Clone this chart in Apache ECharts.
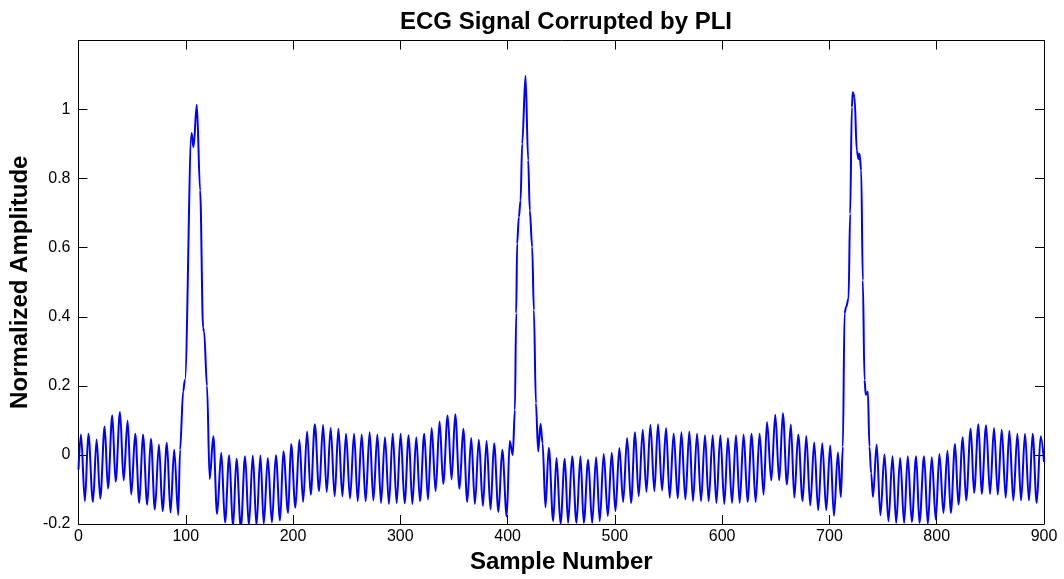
<!DOCTYPE html>
<html>
<head>
<meta charset="utf-8">
<script src="https://cdn.jsdelivr.net/npm/echarts@6/dist/echarts.min.js"></script>
<style>
html,body{margin:0;padding:0;background:#fff;}
#chart{width:1064px;height:579px;}
</style>
</head>
<body>
<div id="chart"></div>
<script>
// ---- data (vertices: local extrema and QRS turning points) ----
const chartTitle = 'ECG Signal Corrupted by PLI';
const xAxisName = 'Sample Number';
const yAxisName = 'Normalized Amplitude';
const xTicks = [0, 100, 200, 300, 400, 500, 600, 700, 800, 900];
const yTicks = [-0.2, 0, 0.2, 0.4, 0.6, 0.8, 1];

const sampleNumber = [
  0, 2.3, 6.0, 9.2, 13.5, 16.9, 20.3, 24.4, 27.5, 31.5, 34.6, 38.7, 42.1, 45.8, 49.2, 52.9, 56.7, 60.1, 64.1, 67.5,
  71.2, 75.0, 78.4, 82.4, 85.8, 89.2, 93.0,
  94.7, 97.6, 99.2, 105.4, 107.2, 110.3, 113.4, 116.2, 117.1, 119.8, 122.3,
  125.7, 129.2, 133.1, 136.6, 140.5, 144.0, 147.3, 151.3, 155.3, 158.8, 162.5, 165.9, 169.6, 172.7, 176.5, 180.3,
  184.0, 187.9, 191.0, 195.4, 198.2, 202.2, 205.9, 209.4, 213.1, 216.5, 220.3, 224.3, 228.0, 231.4, 235.1, 238.8,
  242.3, 246.0, 249.4, 253.1, 256.9, 260.3, 264.0, 267.7, 271.4, 274.9, 278.6, 282.0, 285.7, 289.4, 292.9, 296.6,
  300.3, 304.0, 307.8, 311.2, 314.9, 318.3, 322.3, 325.8, 329.2, 332.9, 336.6, 340.0, 344.1, 347.8, 351.2, 355.2,
  358.7, 362.4, 366.1, 369.5, 373.2, 377.0, 380.4, 384.1, 387.4, 391.5, 395.0, 399.2, 402.0, 404.8,
  406.8, 408.0, 408.9, 410.5, 412.1, 413.6, 416.7, 419.2, 420.7, 422.9, 424.5, 426.4, 428.5,
  430.7, 432.6, 435.3, 438.4, 442.5, 445.6, 449.3, 453.3, 456.4, 460.2, 464.2, 467.9, 471.0, 475.1, 478.8, 482.5,
  485.9, 489.6, 493.4, 497.1, 500.5, 504.2, 507.7, 511.4, 515.1, 518.8, 522.2, 526.0, 529.4, 533.1, 536.8, 540.2,
  544.0, 547.7, 551.1, 554.8, 558.6, 562.0, 565.7, 569.4, 572.8, 576.6, 580.3, 584.0, 587.4, 591.2, 594.6, 598.3,
  602.0, 605.4, 609.2, 612.9, 616.3, 620.0, 623.7, 627.5, 631.2, 634.9, 638.6, 641.8, 645.8, 649.5, 653.2, 656.6,
  660.4, 664.0, 667.3, 670.9, 675.0, 678.4, 682.1, 685.8, 689.5, 693.3, 697.0, 700.7, 704.2, 707.9, 710.6,
  712.5, 714.1, 715.6, 717.8, 719.3, 720.9, 721.8, 723.4, 725.5, 727.1, 728.0, 729.6, 731.1, 732.7, 733.9, 735.8,
  737.3, 738.9, 740.6, 744.0, 747.5, 751.3, 755.0, 758.8, 762.2, 765.9, 769.6, 773.0, 776.8, 780.8, 783.9, 788.2,
  791.7, 795.4, 799.1, 802.5, 806.3, 810.0, 813.1, 817.1, 820.2, 824.3, 827.4, 831.7, 834.8, 838.9, 841.9, 846.0,
  849.7, 853.4, 856.9, 860.6, 864.3, 867.7, 871.4, 875.2, 878.6, 882.3, 886.0, 889.4, 893.2, 896.9, 900
];

const amplitude = [
  -0.042, 0.059, -0.134, 0.061, -0.136, 0.045, -0.126, 0.082, -0.097, 0.115, -0.078, 0.124, -0.074, 0.099, -0.115, 0.061, -0.139, 0.059, -0.144, 0.047,
  -0.158, 0.030, -0.163, 0.035, -0.167, 0.015, -0.174,
  0.015, 0.184, 0.217, 0.932, 0.891, 1.014, 0.766, 0.367, 0.357, 0.200, -0.070,
  0.054, -0.171, 0.006, -0.196, -0.001, -0.210, -0.011, -0.210, -0.004, -0.205, -0.002, -0.205, -0.002, -0.200, -0.009, -0.196,
  -0.001, -0.190, 0.011, -0.168, 0.032, -0.153, 0.044, -0.136, 0.068, -0.115, 0.089, -0.105, 0.087, -0.107, 0.078, -0.120,
  0.076, -0.120, 0.061, -0.126, 0.061, -0.134, 0.059, -0.134, 0.066, -0.132, 0.059, -0.139, 0.051, -0.142, 0.061, -0.139,
  0.061, -0.140, 0.057, -0.142, 0.051, -0.134, 0.061, -0.129, 0.078, -0.105, 0.097, -0.084, 0.114, -0.071, 0.118, -0.098,
  0.076, -0.136, 0.049, -0.142, 0.044, -0.148, 0.040, -0.158, 0.034, -0.165, 0.015, -0.178, 0.040, 0.000,
  0.130, 0.410, 0.612, 0.689, 0.737, 0.901, 1.098, 0.853, 0.708, 0.602, 0.419, 0.150, 0.010,
  0.090, 0.034, -0.152, 0.021, -0.192, -0.009, -0.200, -0.011, -0.197, -0.004, -0.197, -0.004, -0.197, -0.014, -0.197, -0.007,
  -0.192, 0.003, -0.177, 0.006, -0.163, 0.020, -0.136, 0.049, -0.139, 0.066, -0.120, 0.073, -0.107, 0.087, -0.105, 0.089,
  -0.103, 0.078, -0.124, 0.062, -0.126, 0.066, -0.129, 0.068, -0.134, 0.061, -0.134, 0.057, -0.134, 0.057, -0.139, 0.057,
  -0.142, 0.049, -0.139, 0.057, -0.139, 0.059, -0.136, 0.061, -0.136, 0.061, -0.115, 0.095, -0.074, 0.116, -0.074, 0.121,
  -0.086, 0.088, -0.124, 0.059, -0.134, 0.055, -0.146, 0.036, -0.160, 0.034, -0.160, 0.027, -0.176, 0.007, -0.122,
  0.024, 0.410, 0.429, 0.453, 0.698, 1.007, 1.050, 1.036, 0.881, 0.857, 0.872, 0.824, 0.506, 0.217, 0.174, 0.183,
  0.024, -0.053, -0.122, 0.030, -0.175, 0.001, -0.192, -0.004, -0.197, -0.009, -0.197, -0.004, -0.194, -0.004, -0.197, -0.004,
  -0.200, -0.007, -0.187, 0.003, -0.168, 0.012, -0.168, 0.032, -0.144, 0.051, -0.132, 0.076, -0.110, 0.089, -0.113, 0.086,
  -0.113, 0.078, -0.115, 0.073, -0.124, 0.070, -0.132, 0.061, -0.132, 0.061, -0.132, 0.061, -0.139, 0.054, -0.020
];

const seriesData = sampleNumber.map((x, i) => [x, amplitude[i]]);

const FONT = '"Liberation Sans", Arial, Helvetica, sans-serif';
const chart = echarts.init(document.getElementById('chart'), null, {renderer: 'canvas'});

const xMin = xTicks[0], xMax = xTicks[xTicks.length - 1];
const yMin = yTicks[0], yMax = 1.2, yStep = 0.2;

const commonLine = {show: true, onZero: false, lineStyle: {color: '#000', width: 1}};
const commonTick = {show: true, inside: true, length: 9, lineStyle: {color: '#000', width: 1}};

chart.setOption({
  animation: false,
  backgroundColor: '#ffffff',
  title: {
    text: chartTitle,
    left: 561, top: 5, textAlign: 'center',
    textStyle: {fontFamily: FONT, fontWeight: 'bold', fontSize: 24, color: '#000'}
  },
  grid: {left: 77.5, right: 20, top: 40.5, bottom: 54.5, containLabel: false},
  xAxis: [{
    type: 'value', min: xMin, max: xMax, interval: 100, position: 'bottom',
    name: xAxisName, nameLocation: 'middle', nameGap: 26,
    nameTextStyle: {fontFamily: FONT, fontWeight: 'bold', fontSize: 24, color: '#000'},
    axisLine: commonLine, axisTick: commonTick,
    axisLabel: {fontFamily: FONT, fontSize: 16, color: '#000', margin: 5},
    splitLine: {show: false}
  }, {
    type: 'value', min: xMin, max: xMax, interval: 100, position: 'top',
    axisLine: commonLine, axisTick: commonTick, axisLabel: {show: false}, splitLine: {show: false}
  }],
  yAxis: [{
    type: 'value', min: yMin, max: yMax, interval: yStep, position: 'left',
    name: yAxisName, nameLocation: 'middle', nameGap: 43, nameRotate: 90,
    nameTextStyle: {fontFamily: FONT, fontWeight: 'bold', fontSize: 24, color: '#000'},
    axisLine: commonLine, axisTick: commonTick,
    axisLabel: {
      fontFamily: FONT, fontSize: 16, color: '#000', margin: 8,
      formatter: v => (Math.abs(v - yMax) < 1e-9 ? '' : String(Math.round(v * 10) / 10))
    },
    splitLine: {show: false}
  }, {
    type: 'value', min: yMin, max: yMax, interval: yStep, position: 'right',
    axisLine: commonLine, axisTick: commonTick, axisLabel: {show: false}, splitLine: {show: false}
  }],
  series: [{
    type: 'line',
    data: seriesData,
    xAxisIndex: 0, yAxisIndex: 0,
    showSymbol: false,
    smooth: 0.35,
    smoothMonotone: 'x',
    clip: true,
    lineStyle: {color: '#0000ff', width: 2},
    itemStyle: {color: '#0000ff'}
  }]
});
</script>
</body>
</html>
